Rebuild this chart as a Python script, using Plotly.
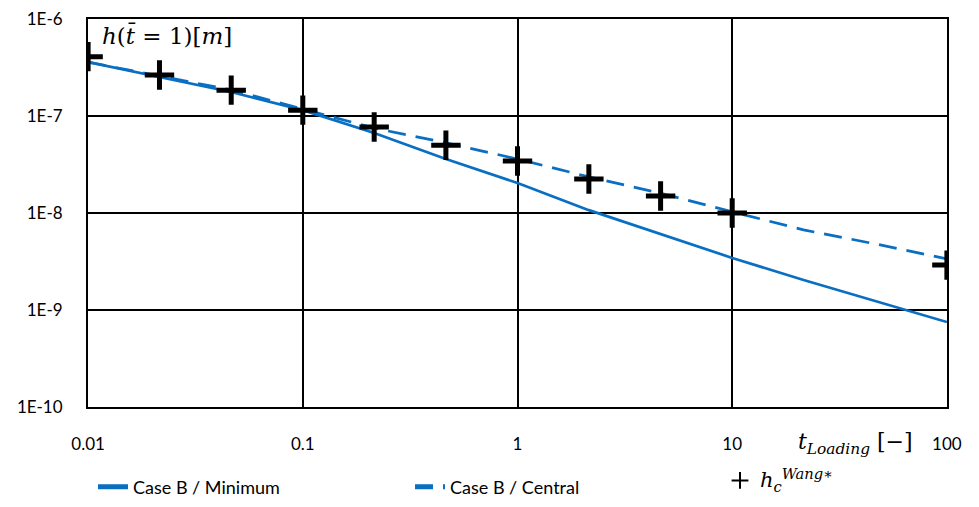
import plotly.graph_objects as go

# Data
t_line = [0.01, 0.0215, 0.0464, 0.1, 0.215, 0.464, 1, 2.15, 4.64, 10, 21.5, 46.4, 100]
h_minimum = [3.6e-7, 2.52e-7, 1.77e-7, 1.15e-7, 6.7e-8, 3.6e-8, 2.04e-8, 1.07e-8, 6.1e-9,
             3.44e-9, 2.04e-9, 1.24e-9, 7.5e-10]
h_central = [3.6e-7, 2.6e-7, 1.86e-7, 1.18e-7, 7.5e-8, 5.3e-8, 3.6e-8, 2.36e-8, 1.6e-8,
             1.03e-8, 6.7e-9, 4.8e-9, 3.36e-9]
t_wang = [0.01, 0.0215, 0.0464, 0.1, 0.215, 0.464, 1, 2.15, 4.64, 10, 100]
h_wang = [4.1e-7, 2.65e-7, 1.85e-7, 1.15e-7, 7.7e-8, 5.0e-8, 3.44e-8, 2.24e-8, 1.5e-8, 1.0e-8, 2.9e-9]

x_ticks = [0.01, 0.1, 1, 10, 100]
x_ticktext = ["0.01", "0.1", "1", "10", "100"]
y_ticks = [1e-10, 1e-9, 1e-8, 1e-7, 1e-6]
y_ticktext = ["1E-10", "1E-9", "1E-8", "1E-7", "1E-6"]

blue = "#0A6FC2"
font_family = "Lato, 'Liberation Sans', sans-serif"
math_font = "'DejaVu Serif', 'Liberation Serif', serif"

fig = go.Figure()
fig.add_trace(go.Scatter(x=t_line, y=h_minimum, mode="lines", name="Case B / Minimum",
                         line=dict(color=blue, width=2.7), legend="legend"))
fig.add_trace(go.Scatter(x=t_line, y=h_central, mode="lines", name="Case B / Central",
                         line=dict(color=blue, width=2.7, dash="18px,10px"), legend="legend2"))
fig.add_trace(go.Scatter(x=t_wang, y=h_wang, mode="markers",
                         name="<span style='font-family:DejaVu Serif;font-size:21px'><i>h</i><sub><i>c</i></sub><sup><i>Wang</i>∗</sup></span>",
                         marker=dict(symbol="cross-thin", size=21, color="black",
                                     line=dict(color="black", width=5)), legend="legend3"))

axis_common = dict(showline=True, mirror=True, linecolor="black", linewidth=2,
                   showgrid=True, gridcolor="black", gridwidth=2, zeroline=False,
                   automargin=False,
                   ticks="", tickfont=dict(family=font_family, size=17, color="black"))

fig.update_xaxes(type="log", range=[-2.0005, 2.0005], tickvals=x_ticks, ticktext=x_ticktext,
                 ticklabelstandoff=21, **axis_common)
fig.update_yaxes(type="log", range=[-10.001, -5.999], tickvals=y_ticks, ticktext=y_ticktext,
                 ticklabelstandoff=20, **axis_common)

fig.add_annotation(x=0.014, y=0.997, xref="paper", yref="paper", xanchor="left", yanchor="top",
                   text="<i>h</i>(<i>t̄</i> = 1)[<i>m</i>]", showarrow=False,
                   font=dict(family=math_font, size=23, color="black"))
fig.add_annotation(x=0.893, y=-0.095, xref="paper", yref="paper", xanchor="center", yanchor="middle",
                   text="<i>t</i><sub><i>Loading</i></sub> [−]", showarrow=False,
                   font=dict(family=math_font, size=22, color="black"))

legend_common = dict(orientation="h", xref="container", xanchor="left", yanchor="middle",
                     bgcolor="rgba(0,0,0,0)", itemsizing="constant",
                     font=dict(family=font_family, size=18, color="black"))

fig.update_layout(
    width=963, height=491,
    margin=dict(l=80, r=24, t=11, b=92, autoexpand=False),
    plot_bgcolor="white", paper_bgcolor="white",
    font=dict(family=font_family, size=18, color="black"),
    showlegend=True,
    legend=dict(x=85 / 963, y=-0.206, **legend_common),
    legend2=dict(x=402 / 963, y=-0.206, **legend_common),
    legend3=dict(x=712 / 963, y=-0.19, **legend_common),
)

fig.write_html("out.html")
